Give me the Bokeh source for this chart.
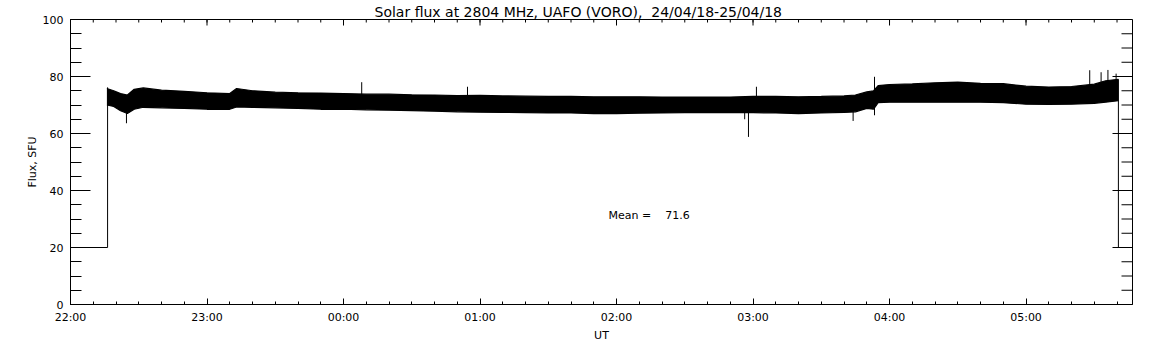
import numpy as np
from bokeh.plotting import figure
from bokeh.models import FixedTicker, Range1d, Label, Title
from bokeh.embed import file_html
from bokeh.resources import INLINE

# ---- data ----
title_text = "Solar flux at 2804 MHz, UAFO (VORO),\u00a0\u00a024/04/18-25/04/18"
tick_labels = ["22:00", "23:00", "00:00", "01:00", "02:00", "03:00", "04:00", "05:00"]
axis_start = "22:00"
axis_end = "05:46:48"
y_major = [0, 20, 40, 60, 80, 100]
y_minor = list(range(0, 101, 5))

# envelope of the noisy flux trace (SFU)
times = ["22:16", "22:19", "22:22", "22:25", "22:28", "22:32", "22:40", "22:50",
         "23:00", "23:10", "23:13", "23:20", "23:30", "23:40", "23:50",
         "00:00", "00:10", "00:20", "00:30", "00:40", "00:50",
         "01:00", "01:10", "01:20", "01:30", "01:40", "01:50",
         "02:00", "02:10", "02:20", "02:30", "02:40", "02:50",
         "03:00", "03:10", "03:20", "03:30", "03:40", "03:45", "03:50", "03:53", "03:55",
         "04:00", "04:10", "04:20", "04:30", "04:40", "04:50",
         "05:00", "05:10", "05:20", "05:30", "05:35", "05:40:36"]
upper = [75.8, 75.0, 74.0, 73.5, 75.5, 76.0, 75.2, 74.8,
         74.3, 74.0, 75.8, 75.0, 74.5, 74.3, 74.2,
         74.0, 73.8, 73.8, 73.6, 73.5, 73.3,
         73.4, 73.2, 73.1, 73.0, 73.0, 72.9,
         72.9, 72.9, 72.8, 72.8, 72.8, 72.8,
         73.0, 73.0, 72.9, 73.0, 73.2, 73.5, 74.6, 75.0, 76.8,
         77.2, 77.4, 77.8, 78.0, 77.6, 77.5,
         76.6, 76.3, 76.5, 77.3, 78.5, 79.0]
lower = [70.0, 69.5, 68.0, 67.0, 68.5, 69.2, 69.0, 68.8,
         68.5, 68.5, 69.3, 69.2, 69.0, 68.8, 68.5,
         68.5, 68.3, 68.2, 68.0, 67.8, 67.6,
         67.5, 67.4, 67.3, 67.2, 67.2, 67.0,
         67.0, 67.1, 67.2, 67.3, 67.3, 67.3,
         67.3, 67.2, 67.0, 67.2, 67.4, 67.6, 68.8, 68.5, 70.8,
         71.0, 71.0, 71.0, 71.0, 71.0, 70.8,
         70.3, 70.2, 70.3, 70.6, 71.0, 71.5]

# isolated spikes in the trace
spike_times = ["22:24:36", "00:08", "00:54:30", "02:56:20", "02:58", "03:01:30",
               "03:44", "03:53:24", "03:53:24", "05:28", "05:33", "05:36", "05:39:36"]
spike_values = [63.6, 78.0, 76.4, 65.0, 58.8, 76.4,
                64.4, 79.9, 66.4, 82.2, 81.5, 82.3, 81.0]

# off-sun / calibration level before and after the observation
base_level = 20
start_time = "22:16:18"
start_peak = 76.2
stop_time = "05:40:36"
stop_peak = 79.0
mean_value = 71.6
mean_pos_time = "01:56:30"
mean_pos_value = 31.3


def to_hours(s):
    parts = [int(v) for v in s.split(":")]
    h, m = parts[0], parts[1]
    sec = parts[2] if len(parts) > 2 else 0
    if h < 12:
        h += 24
    return h - 22 + m / 60 + sec / 3600


t = np.array([to_hours(s) for s in times])
up = np.array(upper)
lo = np.array(lower)
mid = (up + lo) / 2
st = np.array([to_hours(s) for s in spike_times])
sv = np.array(spike_values)
s_mid = np.interp(st, t, mid)

x0 = to_hours(axis_start)
x1 = to_hours(axis_end)
x_major = list(range(len(tick_labels)))
x_minor = [k / 6 for k in range(0, 47)]

FONT = "DejaVu Sans"
W, H = 1152, 345
BL, BR, BT, BB = 70, 20, 19, 41
frame_w = W - BL - BR
frame_h = H - BT - BB
px_per_x = frame_w / (x1 - x0)
px_per_y = frame_h / 100.0

p = figure(width=W, height=H, output_backend="svg", toolbar_location=None,
           x_range=Range1d(x0, x1), y_range=Range1d(0, 100),
           min_border_left=BL, min_border_right=BR, min_border_top=BT, min_border_bottom=BB)
p.background_fill_color = "white"
p.border_fill_color = "white"
p.outline_line_color = "black"
p.outline_line_width = 1
p.xgrid.visible = False
p.ygrid.visible = False

p.title = Title(text=title_text, align="left", offset=304, standoff=0,
                text_font=FONT, text_font_size="14px", text_font_style="normal",
                text_color="black")

xt = FixedTicker(ticks=x_major, minor_ticks=x_minor)
yt = FixedTicker(ticks=y_major, minor_ticks=y_minor)


def style_axis(ax, major_in, minor_in):
    ax.axis_line_color = "black"
    ax.major_tick_line_color = "black"
    ax.minor_tick_line_color = "black"
    ax.major_tick_in = major_in
    ax.major_tick_out = 0
    ax.minor_tick_in = minor_in
    ax.minor_tick_out = 0
    ax.major_label_text_font = FONT
    ax.major_label_text_color = "black"
    ax.major_label_text_font_size = "11px"
    ax.axis_label_text_font = FONT
    ax.axis_label_text_font_style = "normal"
    ax.axis_label_text_color = "black"
    ax.axis_label_text_font_size = "11px"


xa = p.xaxis[0]
xa.ticker = xt
xa.major_label_overrides = {i: lab for i, lab in enumerate(tick_labels)}
style_axis(xa, 6, 3)
xa.major_label_standoff = 6
xa.axis_label = "UT"
xa.axis_label_standoff = 2

ya = p.yaxis[0]
ya.ticker = yt
style_axis(ya, 20, 11)
ya.major_label_standoff = 7
ya.axis_label = "Flux, SFU"
ya.axis_label_standoff = 1

# ticks of the top and right sides of the box (pointing inward)
top_major = 6 / px_per_y
top_minor = 3 / px_per_y
p.segment(x0=x_major, y0=[100] * len(x_major), x1=x_major,
          y1=[100 - top_major] * len(x_major), line_color="black", line_width=1)
p.segment(x0=x_minor, y0=[100] * len(x_minor), x1=x_minor,
          y1=[100 - top_minor] * len(x_minor), line_color="black", line_width=1)
right_major = 20 / px_per_x
right_minor = 11 / px_per_x
p.segment(x0=[x1] * len(y_major), y0=y_major, x1=[x1 - right_major] * len(y_major),
          y1=y_major, line_color="black", line_width=1)
p.segment(x0=[x1] * len(y_minor), y0=y_minor, x1=[x1 - right_minor] * len(y_minor),
          y1=y_minor, line_color="black", line_width=1)

# trace
p.varea(x=t, y1=lo, y2=up, fill_color="black")
p.line(t, up, line_color="black", line_width=1.2)
p.line(t, lo, line_color="black", line_width=1.2)
p.segment(x0=st, y0=s_mid, x1=st, y1=sv, line_color="black", line_width=1)

ts = to_hours(start_time)
te = to_hours(stop_time)
p.line([x0, ts, ts], [base_level, base_level, start_peak], line_color="black", line_width=1)
p.line([te, te, x1], [stop_peak, base_level, base_level], line_color="black", line_width=1)

p.add_layout(Label(x=to_hours(mean_pos_time), y=mean_pos_value,
                   text="Mean =\u00a0\u00a0\u00a0\u00a0" + f"{mean_value}",
                   text_font=FONT, text_font_size="11px",
                   text_color="black", text_baseline="middle", text_align="left"))

open("out.html", "w").write(file_html(p, INLINE))
